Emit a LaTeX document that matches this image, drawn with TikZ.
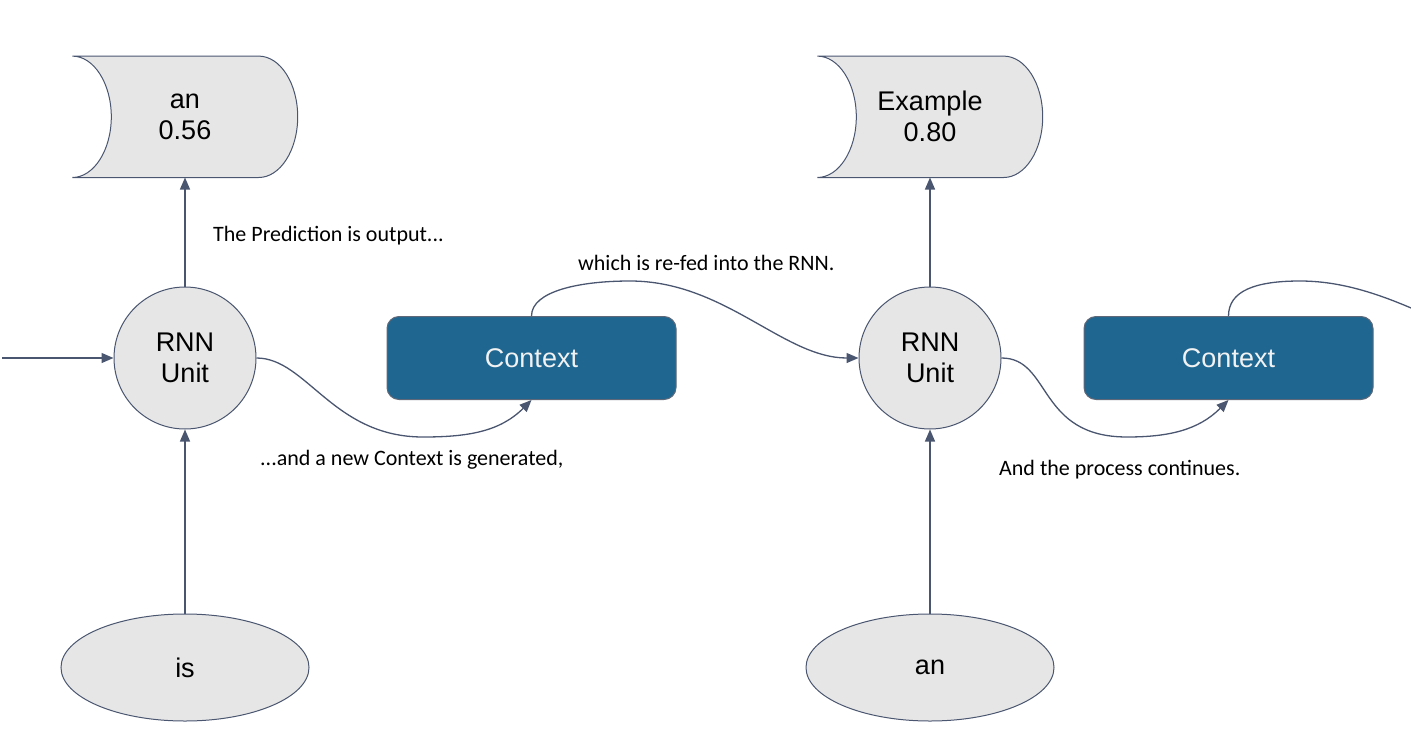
\documentclass[tikz,border=0pt]{standalone}
\usepackage{fontspec}
\setmainfont{Liberation Sans}
\newfontfamily\notefont{Carlito}
\usetikzlibrary{positioning,shapes.geometric,arrows.meta,backgrounds}
\definecolor{edgegray}{HTML}{4A5670}
\definecolor{unitfill}{HTML}{E6E6E6}
\definecolor{ctxblue}{HTML}{1F6791}
\definecolor{ctxline}{HTML}{5E6878}
\definecolor{ctxtext}{HTML}{F2F2F2}
\tikzset{
  unit/.style={circle, draw=edgegray, fill=unitfill, line width=1pt, minimum size=142pt,
  inner sep=0pt, align=center, font=\fontsize{27}{31}\selectfont},
  word/.style={ellipse, draw=edgegray, fill=unitfill, line width=1pt, minimum width=248pt,
  minimum height=107pt, inner sep=0pt, font=\fontsize{27}{31}\selectfont},
  context/.style={rectangle, rounded corners=12pt, draw=ctxline, fill=ctxblue, line width=1pt,
  minimum width=289pt, minimum height=83pt, text=ctxtext, font=\fontsize{27}{31}\selectfont},
  pred/.style={rectangle, minimum width=225pt, minimum height=121pt, inner sep=0pt,
  align=center, font=\fontsize{27}{31}\selectfont},
  stored/.style={draw=edgegray, fill=unitfill, line width=1pt},
  note/.style={inner sep=0pt, anchor=west, font=\notefont\fontsize{22}{26}\selectfont},
  link/.style={draw=edgegray, line width=1.3pt, -{Triangle[length=12pt,width=10pt]}},
}
% outline of a stored-data box round a pred node
\newcommand{\predshape}[1]{%
  \draw[stored] (#1.north west) -- ([xshift=-39pt]#1.north east)
    .. controls +(21.5,0) and +(0,33.4) .. (#1.east)
    .. controls +(0,-33.4) and +(21.5,0) .. ([xshift=-39pt]#1.south east)
    -- (#1.south west)
    .. controls +(21.5,0) and +(0,-33.4) .. ([xshift=39pt]#1.west)
    .. controls +(0,33.4) and +(21.5,0) .. (#1.north west) -- cycle;}

\begin{document}
\begin{tikzpicture}[x=1pt,y=1pt]
\useasboundingbox (0,0) rectangle (1411,-744);
\clip (0,0) rectangle (1411,-744);

% first step
\node[unit] (rnnA) at (185,-358) {RNN\\Unit};
\node[context, right=130pt of rnnA] (ctxA) {Context};
\node[pred, above=109pt of rnnA] (outA) {an\\0.56};
\node[word, below=184pt of rnnA] (wordA) {is};

% second step
\node[unit, right=182pt of ctxA] (rnnB) {RNN\\Unit};
\node[context, right=82pt of rnnB] (ctxB) {Context};
\node[pred, above=109pt of rnnB] (outB) {Example\\0.80};
\node[word, below=184pt of rnnB] (wordB) {an};

\begin{scope}[on background layer]
  \predshape{outA}
  \predshape{outB}
\end{scope}

\coordinate (inA) at (2,-358);
\coordinate (dipA) at (423,-437);
\coordinate (peakA) at (630,-281);
\coordinate (dipB) at (1127,-437);
\coordinate (peakB) at (1300,-281);
\coordinate (nextB) at (1559,-358);

% notes
\node[note] (noteOut) at (213,-236) {The Prediction is output...};
\node[note] (noteRefed) at (578,-263) {which is re-fed into the RNN.};
\node[note] (noteNew) at (260,-460) {...and a new Context is generated,};
\node[note] (noteGoes) at (999,-470) {And the process continues.};

% connectors
\draw[link] (inA) -- (rnnA);
\draw[link] (wordA) -- (rnnA);
\draw[link] (rnnA) -- (outA);
\draw[link] (rnnA.east) .. controls +(50,0) and +(-90,0) .. (dipA)
  to[out=0, in=-135] (ctxA.south);
\draw[link] (ctxA.north) .. controls +(0,25) and +(-50,0) .. (peakA)
  .. controls +(95,0) and +(-75,0) .. (rnnB.west);

\draw[link] (wordB) -- (rnnB);
\draw[link] (rnnB) -- (outB);
\draw[link] (rnnB.east) .. controls +(50,0) and +(-90,0) .. (dipB)
  to[out=0, in=-135] (ctxB.south);
\draw[draw=edgegray, line width=1.3pt] (ctxB.north) .. controls +(0,25) and +(-45,0) .. (peakB)
  .. controls +(100,0) and +(-80,0) .. (nextB);

\end{tikzpicture}
\end{document}
